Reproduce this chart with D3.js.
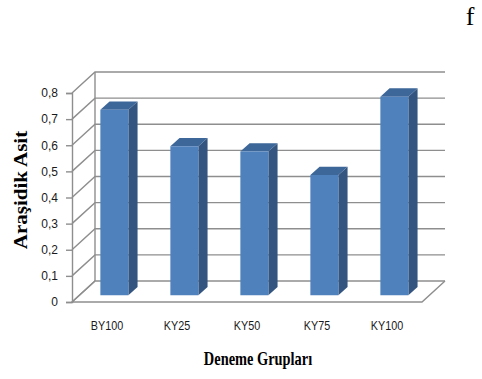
<!DOCTYPE html>
<html>
<head>
<meta charset="utf-8">
<script src="https://cdn.jsdelivr.net/npm/d3@7"></script>
<style>
  html, body { margin: 0; padding: 0; background: #fff; }
  svg { display: block; }
</style>
</head>
<body>
<svg id="chart" width="482" height="379"></svg>
<script>
// Group names and mean values of arachidic acid
const categories = ["BY100", "KY25", "KY50", "KY75", "KY100"];
const values = [0.71, 0.57, 0.55, 0.46, 0.76];
const yTicks = [0, 0.1, 0.2, 0.3, 0.4, 0.5, 0.6, 0.7, 0.8];
const yTickLabels = ["0", "0,1", "0,2", "0,3", "0,4", "0,5", "0,6", "0,7", "0,8"];

const svg = d3.select("#chart");

// front plane of the 3D box
const x0 = 72, x1 = 422;
const DX = 23, DY = 21;            // depth offset of the back wall
const barD0 = 0.32, barD1 = 0.72;  // bar depth range (fraction of box depth)

const x = d3.scaleBand().domain(categories).range([x0, x1])
  .paddingInner(0.6).paddingOuter(0.3);
const y = d3.scaleLinear().domain([0, 0.8]).range([302, 93]);

const P = (px, py, d) => [px + d * DX, py - d * DY];
const gridColor = "#8e8e8e";

const g = svg.append("g");

// floor
const floor = [P(x0, y(0), 0), P(x1, y(0), 0), P(x1, y(0), 1), P(x0, y(0), 1)];
g.append("path")
  .attr("d", d3.line()([floor[3], floor[0], floor[1], floor[2]]))
  .attr("fill", "none").attr("stroke", gridColor).attr("stroke-width", 1.4);

// gridlines: side wall diagonal + back wall horizontal
yTicks.forEach(v => {
  const a = P(x0, y(v), 0), b = P(x0, y(v), 1), c = P(x1, y(v), 1);
  g.append("path").attr("d", d3.line()([a, b, c]))
    .attr("fill", "none").attr("stroke", gridColor).attr("stroke-width", 1.4);
});

// back-left wall edge
g.append("line")
  .attr("x1", x0 + DX).attr("x2", x0 + DX)
  .attr("y1", y(0) - DY).attr("y2", y(0.8) - DY)
  .attr("stroke", gridColor).attr("stroke-width", 1.4);

// front value axis
const axis = d3.axisLeft(y).tickValues(yTicks)
  .tickFormat((d, i) => yTickLabels[i]).tickSize(6).tickPadding(8);
const ax = g.append("g").attr("transform", `translate(${x0},0)`).call(axis);
ax.select(".domain").attr("stroke", gridColor).attr("stroke-width", 1.4);
ax.selectAll(".tick line").attr("stroke", gridColor).attr("stroke-width", 1.4);
ax.selectAll(".tick text")
  .attr("font-family", "'Liberation Sans', Arial, sans-serif")
  .attr("font-size", 12).attr("fill", "#1a1a1a");

// 3D columns
const bars = g.selectAll(".bar").data(categories).join("g").attr("class", "bar");
bars.each(function(c, i) {
  const sel = d3.select(this);
  const l = x(c), r = x(c) + x.bandwidth();
  const top = y(values[i]), bot = y(0);
  const fTL = P(l, top, barD0), fTR = P(r, top, barD0), fBR = P(r, bot, barD0), fBL = P(l, bot, barD0);
  const bTL = P(l, top, barD1), bTR = P(r, top, barD1), bBR = P(r, bot, barD1);
  const line = d3.line();
  sel.append("path").attr("d", line([fTR, bTR, bBR, fBR]) + "Z").attr("fill", "#34557f");
  sel.append("path").attr("d", line([fTL, bTL, bTR, fTR]) + "Z").attr("fill", "#3d6699");
  sel.append("path").attr("d", line([fTL, fTR, fBR, fBL]) + "Z").attr("fill", "#4f81bd");
});

// category labels
g.selectAll(".cat").data(categories).join("text")
  .attr("class", "cat")
  .attr("transform", d => `translate(${x(d) + x.bandwidth() / 2},330) scale(0.9,1)`)
  .attr("text-anchor", "middle")
  .attr("font-family", "'Liberation Sans', Arial, sans-serif")
  .attr("font-size", 12).attr("fill", "#1a1a1a")
  .text(d => d);

// axis titles
svg.append("text")
  .attr("transform", "translate(258,365) scale(0.8,1)")
  .attr("text-anchor", "middle")
  .attr("font-family", "'Liberation Serif', 'Times New Roman', serif")
  .attr("font-weight", "bold").attr("font-size", 18)
  .text("Deneme Grupları");

svg.append("text")
  .attr("transform", "translate(27,190) rotate(-90) scale(1,0.85)")
  .attr("text-anchor", "middle")
  .attr("font-family", "'Liberation Serif', 'Times New Roman', serif")
  .attr("font-weight", "bold").attr("font-size", 21)
  .text("Araşidik Asit");

// panel letter
svg.append("text")
  .attr("x", 470).attr("y", 25)
  .attr("text-anchor", "middle")
  .attr("font-family", "'Liberation Serif', 'Times New Roman', serif")
  .attr("font-size", 26)
  .text("f");
</script>
</body>
</html>
